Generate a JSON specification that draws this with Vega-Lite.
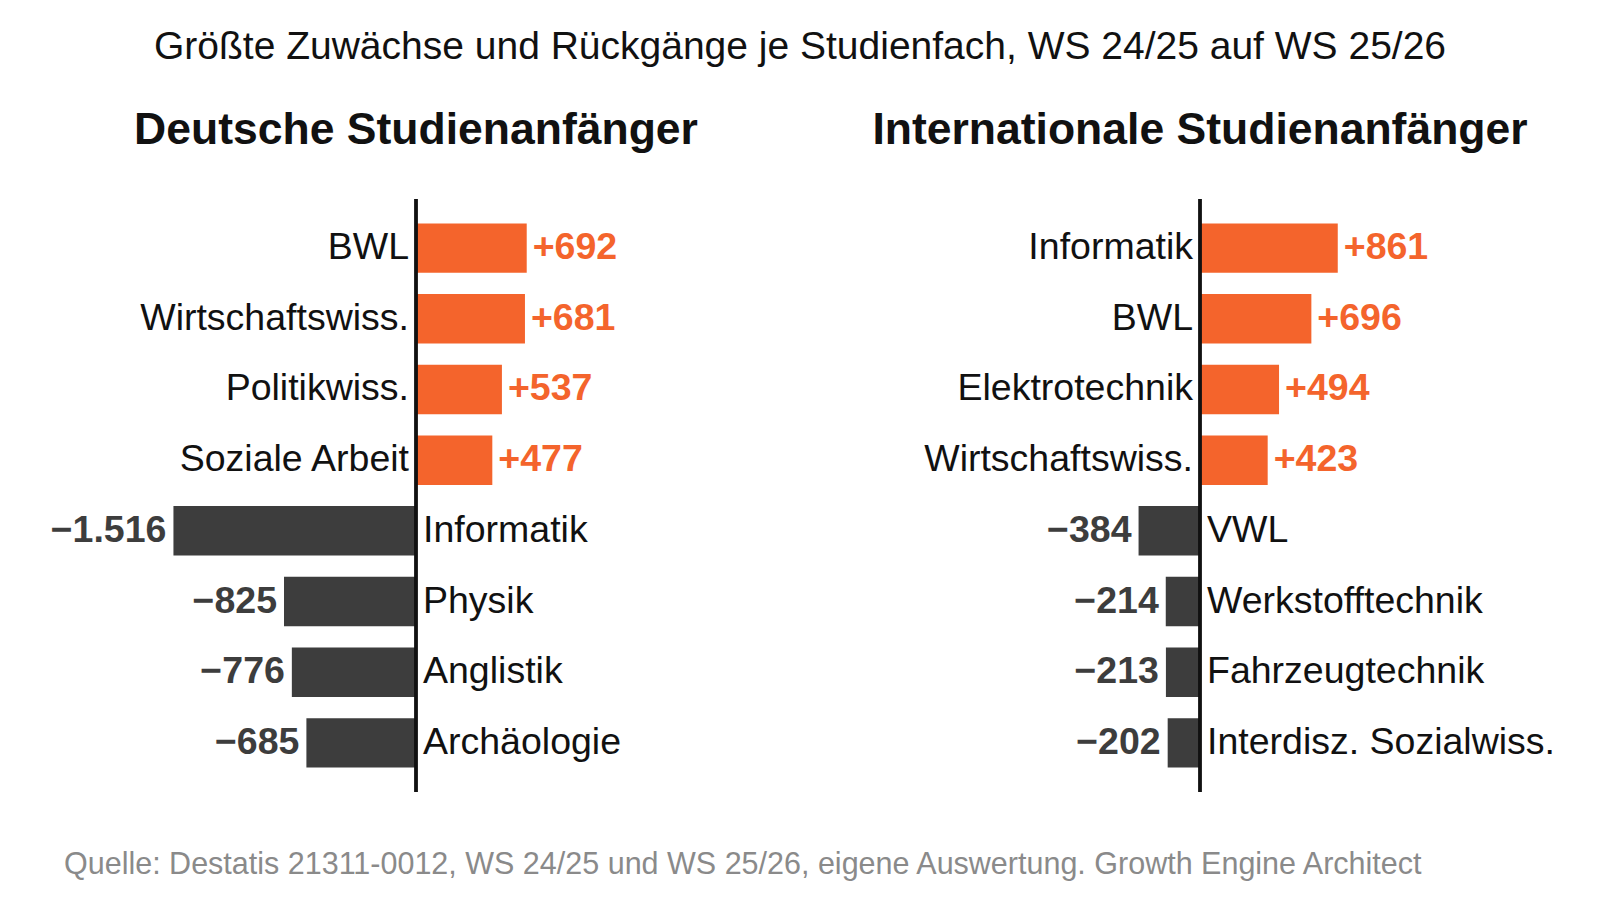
{
  "$schema": "https://vega.github.io/schema/vega-lite/v6.json",
  "padding": {"left": 36, "top": 28, "right": 0, "bottom": 0},
  "config": {
    "font": "Liberation Sans",
    "view": {"stroke": null},
    "locale": {
      "number": {"decimal": ",", "thousands": ".", "grouping": [3], "currency": ["", " €"], "minus": "\u2212"}
    }
  },
  "datasets": {
    "deutsch": [
      {"fach": "BWL", "wert": 692},
      {"fach": "Wirtschaftswiss.", "wert": 681},
      {"fach": "Politikwiss.", "wert": 537},
      {"fach": "Soziale Arbeit", "wert": 477},
      {"fach": "Informatik", "wert": -1516},
      {"fach": "Physik", "wert": -825},
      {"fach": "Anglistik", "wert": -776},
      {"fach": "Archäologie", "wert": -685}
    ],
    "international": [
      {"fach": "Informatik", "wert": 861},
      {"fach": "BWL", "wert": 696},
      {"fach": "Elektrotechnik", "wert": 494},
      {"fach": "Wirtschaftswiss.", "wert": 423},
      {"fach": "VWL", "wert": -384},
      {"fach": "Werkstofftechnik", "wert": -214},
      {"fach": "Fahrzeugtechnik", "wert": -213},
      {"fach": "Interdisz. Sozialwiss.", "wert": -202}
    ]
  },
  "title": {
    "text": "Quelle: Destatis 21311-0012, WS 24/25 und WS 25/26, eigene Auswertung. Growth Engine Architect",
    "orient": "bottom",
    "anchor": "start",
    "fontSize": 30.5,
    "fontWeight": "normal",
    "color": "#8a8a8a",
    "offset": 57,
    "dx": 28
  },
  "vconcat": [
    {
      "title": {
        "text": "Größte Zuwächse und Rückgänge je Studienfach, WS 24/25 auf WS 25/26",
        "fontSize": 39,
        "fontWeight": "normal",
        "color": "#111111",
        "anchor": "middle",
        "offset": 41,
        "dx": -8
      },
      "spacing": 24,
      "hconcat": [
        {
          "width": 760,
          "height": 593,
          "title": {"text": "Deutsche Studienanfänger", "fontSize": 44.5, "fontWeight": "bold", "color": "#111111", "offset": 44},
          "data": {"name": "deutsch"},
          "layer": [
            {
              "mark": "bar",
              "encoding": {
                "y": {"field": "fach", "type": "nominal", "sort": null, "axis": null, "scale": {"paddingInner": 0.3, "paddingOuter": 0.345}},
                "x": {"field": "wert", "type": "quantitative", "axis": null, "scale": {"domain": [-2375, 2375]}},
                "color": {"condition": {"test": "datum.wert > 0", "value": "#F4642C"}, "value": "#3D3D3D"}
              }
            },
            {
              "mark": {"type": "rule", "color": "#111111", "strokeWidth": 2.5},
              "encoding": {"x": {"datum": 0, "type": "quantitative", "scale": {"domain": [-2375, 2375]}}}
            },
            {
              "transform": [{"filter": "datum.wert > 0"}],
              "mark": {"type": "text", "align": "right", "dx": -7, "fontSize": 37.5, "color": "#111111"},
              "encoding": {
                "y": {"field": "fach", "type": "nominal", "sort": null},
                "x": {"datum": 0, "type": "quantitative", "scale": {"domain": [-2375, 2375]}},
                "text": {"field": "fach"}
              }
            },
            {
              "transform": [{"filter": "datum.wert < 0"}],
              "mark": {"type": "text", "align": "left", "dx": 7, "fontSize": 37.5, "color": "#111111"},
              "encoding": {
                "y": {"field": "fach", "type": "nominal", "sort": null},
                "x": {"datum": 0, "type": "quantitative", "scale": {"domain": [-2375, 2375]}},
                "text": {"field": "fach"}
              }
            },
            {
              "transform": [{"filter": "datum.wert > 0"}],
              "mark": {"type": "text", "align": "left", "dx": 6, "fontSize": 37.5, "fontWeight": "bold", "color": "#F4642C"},
              "encoding": {
                "y": {"field": "fach", "type": "nominal", "sort": null},
                "x": {"field": "wert", "type": "quantitative", "scale": {"domain": [-2375, 2375]}},
                "text": {"field": "wert", "type": "quantitative", "format": "+,"}
              }
            },
            {
              "transform": [{"filter": "datum.wert < 0"}],
              "mark": {"type": "text", "align": "right", "dx": -7, "fontSize": 37.5, "fontWeight": "bold", "color": "#3D3D3D"},
              "encoding": {
                "y": {"field": "fach", "type": "nominal", "sort": null},
                "x": {"field": "wert", "type": "quantitative", "scale": {"domain": [-2375, 2375]}},
                "text": {"field": "wert", "type": "quantitative", "format": "+,"}
              }
            }
          ]
        },
        {
          "width": 760,
          "height": 593,
          "title": {"text": "Internationale Studienanfänger", "fontSize": 44.5, "fontWeight": "bold", "color": "#111111", "offset": 44},
          "data": {"name": "international"},
          "layer": [
            {
              "mark": "bar",
              "encoding": {
                "y": {"field": "fach", "type": "nominal", "sort": null, "axis": null, "scale": {"paddingInner": 0.3, "paddingOuter": 0.345}},
                "x": {"field": "wert", "type": "quantitative", "axis": null, "scale": {"domain": [-2375, 2375]}},
                "color": {"condition": {"test": "datum.wert > 0", "value": "#F4642C"}, "value": "#3D3D3D"}
              }
            },
            {
              "mark": {"type": "rule", "color": "#111111", "strokeWidth": 2.5},
              "encoding": {"x": {"datum": 0, "type": "quantitative", "scale": {"domain": [-2375, 2375]}}}
            },
            {
              "transform": [{"filter": "datum.wert > 0"}],
              "mark": {"type": "text", "align": "right", "dx": -7, "fontSize": 37.5, "color": "#111111"},
              "encoding": {
                "y": {"field": "fach", "type": "nominal", "sort": null},
                "x": {"datum": 0, "type": "quantitative", "scale": {"domain": [-2375, 2375]}},
                "text": {"field": "fach"}
              }
            },
            {
              "transform": [{"filter": "datum.wert < 0"}],
              "mark": {"type": "text", "align": "left", "dx": 7, "fontSize": 37.5, "color": "#111111"},
              "encoding": {
                "y": {"field": "fach", "type": "nominal", "sort": null},
                "x": {"datum": 0, "type": "quantitative", "scale": {"domain": [-2375, 2375]}},
                "text": {"field": "fach"}
              }
            },
            {
              "transform": [{"filter": "datum.wert > 0"}],
              "mark": {"type": "text", "align": "left", "dx": 6, "fontSize": 37.5, "fontWeight": "bold", "color": "#F4642C"},
              "encoding": {
                "y": {"field": "fach", "type": "nominal", "sort": null},
                "x": {"field": "wert", "type": "quantitative", "scale": {"domain": [-2375, 2375]}},
                "text": {"field": "wert", "type": "quantitative", "format": "+,"}
              }
            },
            {
              "transform": [{"filter": "datum.wert < 0"}],
              "mark": {"type": "text", "align": "right", "dx": -7, "fontSize": 37.5, "fontWeight": "bold", "color": "#3D3D3D"},
              "encoding": {
                "y": {"field": "fach", "type": "nominal", "sort": null},
                "x": {"field": "wert", "type": "quantitative", "scale": {"domain": [-2375, 2375]}},
                "text": {"field": "wert", "type": "quantitative", "format": "+,"}
              }
            }
          ]
        }
      ]
    }
  ]
}
